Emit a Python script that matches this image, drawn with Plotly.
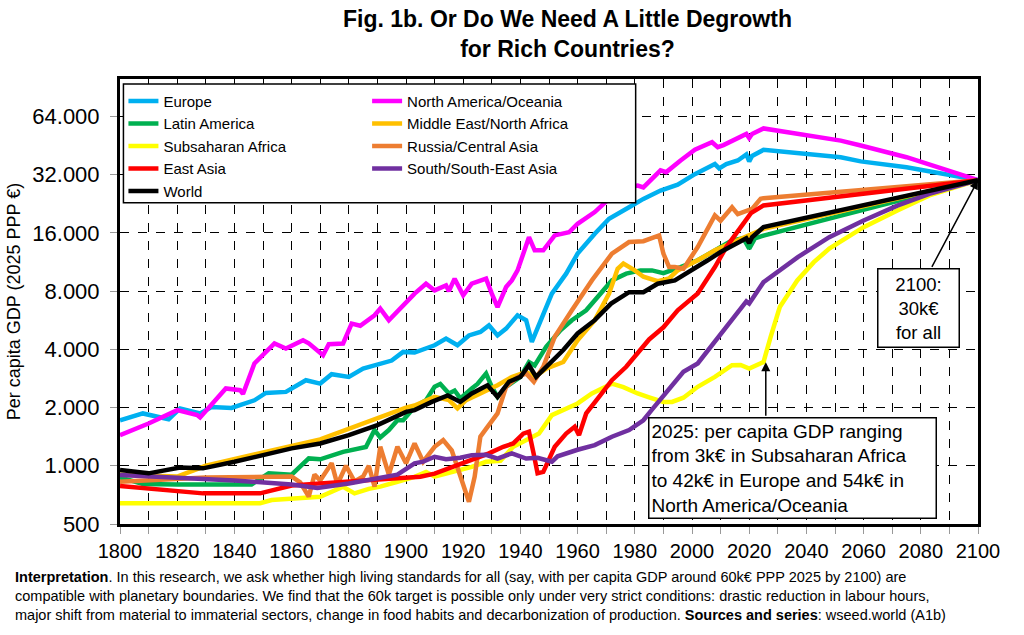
import numpy as np
import plotly.graph_objects as go

# ---------------- data ----------------
europe_years = [1800, 1808, 1817, 1821, 1828, 1832, 1839, 1847, 1851, 1858, 1865, 1870, 1874, 1880, 1885, 1891,
                1895, 1899, 1903, 1910, 1914, 1918, 1922, 1926, 1929, 1932, 1935, 1939, 1942, 1944, 1947, 1951,
                1956, 1960, 1966, 1971, 1978, 1983, 1989, 1995, 2001, 2008, 2009.5, 2012, 2016, 2019, 2020, 2021,
                2025, 2052, 2059, 2075, 2100]
europe_vals = [1720, 1865, 1740, 1980, 1866, 2015, 1990, 2180, 2380, 2410, 2770, 2660, 2975, 2880, 3180, 3350,
               3500, 3880, 3850, 4200, 4550, 4200, 4720, 4920, 5320, 4720, 5120, 6000, 5660, 4370, 5660, 7770,
               9850, 12500, 15850, 18940, 21700, 24000, 26500, 28400, 32200, 36300, 34500, 36300, 37900, 40700,
               37500, 40000, 43000, 39400, 37500, 35000, 30000]

nam_years = [1800, 1810, 1820, 1827, 1828, 1832, 1837, 1842, 1843, 1847, 1854, 1858, 1864, 1866, 1871, 1873,
             1878, 1881, 1884, 1889, 1891, 1894, 1897, 1903, 1907, 1910, 1914, 1915, 1917, 1920, 1923, 1928,
             1930, 1932, 1935, 1937, 1939, 1943, 1945, 1948, 1952, 1957, 1960, 1966, 1971, 1978, 1981, 1983,
             1989, 1991, 1996, 2001, 2007, 2009, 2011, 2016, 2019, 2020, 2021, 2025, 2052, 2059, 2075, 2100]
nam_vals = [1440, 1655, 1940, 1828, 1778, 2080, 2510, 2460, 2350, 3380, 4290, 4040, 4460, 4300, 3730, 4250,
            4290, 5430, 5300, 6000, 6500, 5660, 6300, 7770, 8740, 8070, 8570, 8000, 9280, 7610, 8740, 9280,
            7770, 6620, 8400, 9090, 10240, 15200, 13000, 13000, 15530, 16130, 17840, 20500, 24020, 27590, 28140,
            27500, 33700, 33000, 37900, 43100, 47100, 44400, 45500, 49400, 52000, 49500, 52000, 55500, 48000,
            45300, 39400, 30000]

latam_years = [1800, 1808, 1820, 1846, 1852, 1860, 1866, 1870, 1878, 1886, 1889, 1891, 1894, 1897, 1899, 1903,
               1907, 1910, 1912, 1915, 1917, 1919, 1923, 1925, 1928, 1930, 1932, 1935, 1940, 1943, 1945, 1949,
               1954, 1958, 1963, 1968, 1972, 1977, 1982, 1986, 1990, 1996, 2002, 2008, 2014, 2018, 2020, 2022,
               2025, 2100]
latam_vals = [870, 805, 800, 800, 914, 900, 1092, 1080, 1180, 1250, 1530, 1400, 1530, 1720, 1720, 2015,
              2184, 2560, 2650, 2365, 2450, 2230, 2510, 2650, 3000, 2560, 2270, 2560, 2880, 3440, 3300, 4120,
              5020, 5660, 6370, 7770, 9090, 9850, 10240, 10240, 9900, 10660, 11550, 13000, 14630, 15000, 13270,
              15000, 15500, 30000]

mena_years = [1800, 1820, 1830, 1870, 1900, 1903, 1910, 1915, 1918, 1921, 1926, 1932, 1937, 1942, 1945, 1949,
              1955, 1960, 1966, 1971, 1974, 1976, 1980, 1983, 1988, 1992, 1995, 2002, 2008, 2014, 2019, 2023,
              2025, 2100]
mena_vals = [900, 880, 1000, 1370, 2000, 2050, 2270, 2184, 1980, 2184, 2365, 2610, 2880, 3060, 2880, 3180,
             3440, 4460, 5660, 7770, 10450, 11100, 10240, 9500, 9000, 9300, 10240, 11550, 13000, 14200, 15200,
             16130, 16800, 30000]

ssa_years = [1800, 1849, 1853, 1870, 1878, 1882, 1887, 1891, 1897, 1903, 1907, 1910, 1915, 1919, 1923, 1928,
             1933, 1937.5, 1942, 1946.5, 1951, 1956, 1960, 1965, 1972, 1976, 1981, 1985, 1990, 1993, 1997,
             2002, 2008, 2014, 2017, 2020, 2025, 2027.5, 2030.7, 2036.8, 2042.6, 2048, 2060, 2072, 2083, 2100]
ssa_vals = [640, 640, 665, 692, 779, 720, 760, 780, 827, 877, 930, 880, 920, 950, 986, 1049,
            1060, 1254, 1357, 1467, 1828, 1980, 2100, 2365, 2660, 2550, 2365, 2260, 2140, 2140, 2250,
            2560, 2880, 3310, 3320, 3180, 3440, 4640, 6620, 9090, 11300, 13270, 17140, 20960, 25000, 30000]

russia_years = [1800, 1830, 1860, 1863, 1866, 1868, 1870, 1874, 1876, 1879, 1882, 1885, 1887, 1889, 1891, 1894,
                1897, 1900, 1903, 1906, 1910, 1913, 1916, 1919.6, 1922, 1924, 1926, 1928.5, 1932, 1935, 1939,
                1942, 1944.7, 1948, 1952, 1958, 1965, 1972, 1978, 1983, 1988.5, 1990, 1992, 1994, 1997, 2002,
                2008, 2010, 2014, 2016, 2021, 2024, 2025, 2100]
russia_vals = [827, 870, 880, 820, 692, 900, 840, 1032, 800, 1000, 830, 880, 1000, 780, 1254, 900,
               1254, 1030, 1305, 1050, 1254, 1357, 1200, 844, 652, 877, 1414, 1590, 1865, 2560, 2880,
               3000, 2720, 3250, 4640, 6370, 9090, 12500, 14350, 14500, 15530, 12500, 10660, 10660, 10450, 13520,
               19700, 18500, 21700, 20000, 21300, 24000, 24200, 30000]

easia_years = [1800, 1829, 1849, 1860, 1870, 1880, 1890, 1899, 1905, 1910, 1915, 1919, 1923, 1929, 1934, 1937.5,
               1941, 1943, 1944.6, 1946, 1948, 1950, 1952, 1956, 1959, 1960.5, 1963, 1967.5, 1972, 1977, 1985,
               1990, 1995, 2002, 2008, 2012, 2017, 2020.6, 2025, 2100]
easia_vals = [786, 720, 720, 790, 811, 830, 850, 860, 877, 910, 970, 1010, 1070, 1160, 1254, 1305,
              1467, 1500, 1160, 914, 930, 1070, 1254, 1467, 1590, 1440, 1865, 2270, 2770, 3250, 4500,
              5200, 6370, 7770, 10660, 13520, 17140, 20250, 22200, 30000]

ssea_years = [1800, 1820, 1840, 1860, 1869, 1880, 1890, 1897, 1903, 1906, 1910, 1914, 1919, 1923, 1928, 1932,
              1937, 1942, 1946, 1951, 1953, 1956, 1960, 1966, 1972, 1978, 1983, 1986, 1990, 1995, 1997, 2002,
              2008, 2014, 2019, 2020, 2025, 2037, 2048, 2060, 2072, 2083, 2100]
ssea_vals = [895, 870, 840, 800, 767, 810, 860, 900, 1030, 1050, 1113, 1080, 1100, 1135, 1140, 1090,
             1160, 1090, 1100, 1049, 1120, 1160, 1210, 1280, 1414, 1530, 1720, 1950, 2300, 2800, 3060, 3380,
             4370, 5660, 7080, 6900, 8900, 12000, 15200, 18560, 22200, 25500, 30000]

world_years = [1800, 1810, 1821, 1829, 1840, 1850, 1860, 1870, 1880, 1890, 1900, 1903, 1909, 1914.6, 1919, 1923,
               1928.5, 1932, 1936, 1940, 1943, 1945.5, 1949, 1955, 1960, 1966, 1971.7, 1978, 1983, 1988, 1994,
               2000, 2005.5, 2010, 2016, 2019, 2020, 2021, 2025, 2100]
world_vals = [950, 914, 980, 970, 1049, 1135, 1230, 1305, 1440, 1624, 1900, 1940, 2140, 2310, 2140, 2365,
              2610, 2270, 2720, 2880, 3310, 2880, 3250, 3970, 4830, 5660, 6900, 7900, 7900, 8740, 9090,
              10240, 11550, 12750, 14350, 15000, 14200, 15200, 17140, 30000]

# series order (as in the original workbook) and styles
series = [
    ("Europe", europe_years, europe_vals, "#00B0F0", "legend"),
    ("North America/Oceania", nam_years, nam_vals, "#FF00FF", "legend2"),
    ("Latin America", latam_years, latam_vals, "#00B050", "legend"),
    ("Middle East/North Africa", mena_years, mena_vals, "#FFC000", "legend2"),
    ("Subsaharan Africa", ssa_years, ssa_vals, "#FFFF00", "legend"),
    ("Russia/Central Asia", russia_years, russia_vals, "#ED7D31", "legend2"),
    ("East Asia", easia_years, easia_vals, "#FF0000", "legend"),
    ("South/South-East Asia", ssea_years, ssea_vals, "#7030A0", "legend2"),
    ("World", world_years, world_vals, "#000000", "legend"),
]

y_ticks = [500, 1000, 2000, 4000, 8000, 16000, 32000, 64000]
y_ticktext = ["500", "1.000", "2.000", "4.000", "8.000", "16.000", "32.000", "64.000"]
x_ticks = list(range(1800, 2101, 10))
x_ticktext = [str(v) if v % 20 == 0 else "" for v in x_ticks]

FONT = "Arial, Liberation Sans, sans-serif"

fig = go.Figure()
for name, xs, ys, color, leg in series:
    fig.add_trace(go.Scatter(x=xs, y=ys, mode="lines", name=name,
                             line=dict(color=color, width=4.5), legend=leg))

fig.update_layout(
    width=1024, height=635,
    margin=dict(l=117, r=46, t=79, b=111),
    paper_bgcolor="white", plot_bgcolor="white",
    font=dict(family=FONT, color="black"),
    showlegend=True,
    legend=dict(x=0.004, y=0.987, xanchor="left", yanchor="top", bgcolor="rgba(0,0,0,0)",
                borderwidth=0, font=dict(size=15, family=FONT), itemwidth=30, tracegroupgap=0),
    legend2=dict(x=0.288, y=0.987, xanchor="left", yanchor="top", bgcolor="rgba(0,0,0,0)",
                 borderwidth=0, font=dict(size=15, family=FONT), itemwidth=30, tracegroupgap=0),
)

fig.update_xaxes(range=[1800, 2100], tickvals=x_ticks, ticktext=x_ticktext,
                 ticks="outside", ticklen=7, tickcolor="#999999", tickwidth=1,
                 tickfont=dict(size=20, family=FONT),
                 showgrid=True, gridcolor="black", griddash="dash", gridwidth=1,
                 showline=True, linecolor="black", linewidth=3, mirror=True, zeroline=False)
fig.update_yaxes(type="log", range=[np.log10(500), np.log10(100000)],
                 tickvals=y_ticks, ticktext=y_ticktext,
                 ticks="outside", ticklen=7, tickcolor="#999999", tickwidth=1,
                 tickfont=dict(size=22, family=FONT), ticklabelstandoff=6,
                 title=dict(text="Per capita GDP (2025 PPP €)", font=dict(size=18, family=FONT), standoff=8),
                 showgrid=True, gridcolor="black", griddash="dash", gridwidth=1,
                 showline=True, linecolor="black", linewidth=3, mirror=True, zeroline=False)

# legend frame (white box with black border behind the two legend columns)
fig.add_shape(type="rect", xref="paper", yref="paper", x0=0.004, x1=0.601, y0=0.722, y1=0.989,
              line=dict(color="black", width=1.5), fillcolor="white", layer="above")

# title
fig.add_annotation(xref="paper", yref="paper", x=0.5215, y=1.168, xanchor="center", yanchor="top",
                   text="<b>Fig. 1b. Or Do We Need A Little Degrowth<br>for Rich Countries?</b>",
                   showarrow=False, font=dict(size=23, family=FONT))

# annotations
fig.add_annotation(x=2100, y=np.log10(30000), ax=2083.6, ay=np.log10(10490), xref="x", yref="y",
                   axref="x", ayref="y", text="", showarrow=True, arrowhead=2, arrowsize=1.2,
                   arrowwidth=1.5, arrowcolor="black", standoff=0)
fig.add_annotation(x=2079.1, y=np.log10(6520), xref="x", yref="y",
                   text="2100:<br>30k€<br>for all", showarrow=False, align="center",
                   width=72, font=dict(size=18.5, family=FONT), bgcolor="white", bordercolor="black",
                   borderwidth=1.5, borderpad=4)
fig.add_annotation(x=2025.8, y=np.log10(3430), ax=2025.8, ay=np.log10(1784), xref="x", yref="y",
                   axref="x", ayref="y", text="", showarrow=True, arrowhead=2, arrowsize=1.2,
                   arrowwidth=1.5, arrowcolor="black", standoff=0)
fig.add_annotation(x=2035.0, y=np.log10(979), xref="x", yref="y",
                   text="2025: per capita GDP ranging<br>from 3k€ in Subsaharan Africa<br>"
                        "to 42k€ in Europe and 54k€ in<br>North America/Oceania",
                   showarrow=False, align="left", width=282,
                   font=dict(size=19, family=FONT), bgcolor="white", bordercolor="black",
                   borderwidth=1.5, borderpad=2)

fig.add_annotation(xref="paper", yref="paper", x=-0.1243, y=-0.097, xanchor="left", yanchor="top",
                   text="<b>Interpretation</b>. In this research, we ask whether high living standards for all "
                        "(say, with per capita GDP around 60k€ PPP 2025 by 2100) are<br>compatible with planetary "
                        "boundaries. We find that the 60k target is possible only under very strict conditions: "
                        "drastic reduction in labour hours,<br>major shift from material to immaterial sectors, "
                        "change in food habits and decarbonization of production. <b>Sources and series</b>: "
                        "wseed.world (A1b)",
                   showarrow=False, align="left", font=dict(size=14.5, family=FONT))

fig.write_html("out.html")
